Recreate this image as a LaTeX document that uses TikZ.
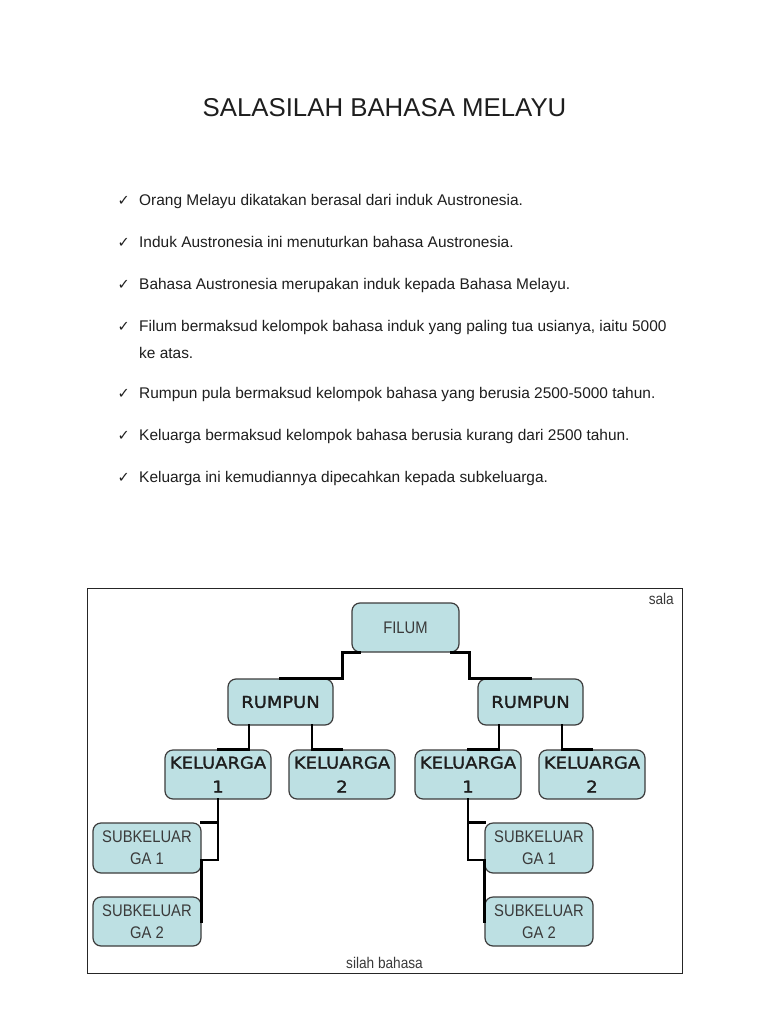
\documentclass[tikz,border=0pt]{standalone}
\usepackage{fontspec}
\setmainfont{Liberation Sans}
\newfontfamily\djv{DejaVu Sans}
\newfontfamily\djvmed[FakeStretch=1.1,FakeBold=1.6]{DejaVu Sans}
\newfontfamily\narrowfont[FakeStretch=0.88]{Liberation Sans}
\definecolor{boxfill}{HTML}{BDE0E3}
\definecolor{boxline}{HTML}{3C3C3C}
\definecolor{txt}{HTML}{1E1E1E}
\definecolor{graytxt}{HTML}{3A3A3A}
\tikzset{
  box/.style={draw=boxline, fill=boxfill, line width=1.2pt, rounded corners=8pt,
    inner sep=0pt, align=center},
  boldlbl/.style={box, text=txt, font=\djvmed\fontsize{16.3}{24}\selectfont},
  thinlbl/.style={box, text=graytxt, font=\narrowfont\fontsize{16.8}{22}\selectfont},
  conn/.style={draw=black, line width=2.6pt, line cap=rect},
  bullettext/.style={anchor=base west, inner sep=0pt, text=txt, font=\fontsize{15.45}{18}\selectfont},
  tick/.style={anchor=base west, inner sep=0pt, text=txt, font=\djv\fontsize{14.5}{16}\selectfont},
  caption/.style={inner sep=0pt, text=graytxt, font=\narrowfont\fontsize{15.5}{18}\selectfont}
}
\begin{document}
\begin{tikzpicture}[x=1pt,y=-1pt]
\useasboundingbox[fill=white] (0,0) rectangle (768,1024);

% title
\node[anchor=base, inner sep=0pt, text=txt, font=\fontsize{25.8}{30}\selectfont] (title) at (384.5,117) {SALASILAH BAHASA MELAYU};

% bullets
\node[tick] (t1) at (117.5,205.5) {✓};
\node[bullettext] (b1) at (139,205.5) {Orang Melayu dikatakan berasal dari induk Austronesia.};
\node[tick] (t2) at (117.5,247.5) {✓};
\node[bullettext] (b2) at (139,247.5) {Induk Austronesia ini menuturkan bahasa Austronesia.};
\node[tick] (t3) at (117.5,289.5) {✓};
\node[bullettext] (b3) at (139,289.5) {Bahasa Austronesia merupakan induk kepada Bahasa Melayu.};
\node[tick] (t4) at (117.5,331.5) {✓};
\node[bullettext] (b4) at (139,331.5) {Filum bermaksud kelompok bahasa induk yang paling tua usianya, iaitu 5000};
\node[bullettext] (b4b) at (139,358.5) {ke atas.};
\node[tick] (t5) at (117.5,398.5) {✓};
\node[bullettext] (b5) at (139,398.5) {Rumpun pula bermaksud kelompok bahasa yang berusia 2500-5000 tahun.};
\node[tick] (t6) at (117.5,440.5) {✓};
\node[bullettext] (b6) at (139,440.5) {Keluarga bermaksud kelompok bahasa berusia kurang dari 2500 tahun.};
\node[tick] (t7) at (117.5,482.5) {✓};
\node[bullettext] (b7) at (139,482.5) {Keluarga ini kemudiannya dipecahkan kepada subkeluarga.};

% frame
\draw[line width=0.9pt, draw=black!85] (87,588) rectangle (682,973);
\node[caption, anchor=base east] (sala) at (674,604) {sala};
\node[caption, anchor=base] (silah) at (384.5,968) {silah bahasa};

% boxes
\node[thinlbl, minimum width=107pt, minimum height=49pt] (F) at (405.5,627.5) {FILUM};
\node[boldlbl, minimum width=105pt, minimum height=46pt] (RL) at (280.5,702) {RUMPUN};
\node[boldlbl, minimum width=105pt, minimum height=46pt] (RR) at (530.5,702) {RUMPUN};
\node[boldlbl, minimum width=106pt, minimum height=49pt] (K1L) at (218,774.5) {KELUARGA\\1};
\node[boldlbl, minimum width=106pt, minimum height=49pt] (K2L) at (342,774.5) {KELUARGA\\2};
\node[boldlbl, minimum width=106pt, minimum height=49pt] (K1R) at (468,774.5) {KELUARGA\\1};
\node[boldlbl, minimum width=106pt, minimum height=49pt] (K2R) at (592,774.5) {KELUARGA\\2};
\node[thinlbl, minimum width=108pt, minimum height=50pt] (S1L) at (147,848) {SUBKELUAR\\GA 1};
\node[thinlbl, minimum width=108pt, minimum height=49pt] (S2L) at (147,921.5) {SUBKELUAR\\GA 2};
\node[thinlbl, minimum width=108pt, minimum height=50pt] (S1R) at (539,848) {SUBKELUAR\\GA 1};
\node[thinlbl, minimum width=108pt, minimum height=49pt] (S2R) at (539,921.5) {SUBKELUAR\\GA 2};

% connectors
\draw[conn] ([xshift=8pt]F.south west) -- ([xshift=-9pt]F.south west) |- (RL.north);
\draw[conn] ([xshift=-8pt]F.south east) -- ([xshift=10pt]F.south east) |- (RR.north);
\draw[conn] ([xshift=-31.5pt]RL.south) |- (K1L.north);
\draw[conn] ([xshift=31.5pt]RL.south) |- (K2L.north);
\draw[conn] ([xshift=-31.5pt]RR.south) |- (K1R.north);
\draw[conn] ([xshift=31.5pt]RR.south) |- (K2R.north);
\draw[conn] (K1L.south) |- (S1L.north east);
\draw[conn] (K1L.south) |- ([yshift=-12pt]S1L.east) -- (S2L.east);
\draw[conn] (K1R.south) |- (S1R.north west);
\draw[conn] (K1R.south) |- ([yshift=-12pt]S1R.west) -- (S2R.west);
\end{tikzpicture}
\end{document}
